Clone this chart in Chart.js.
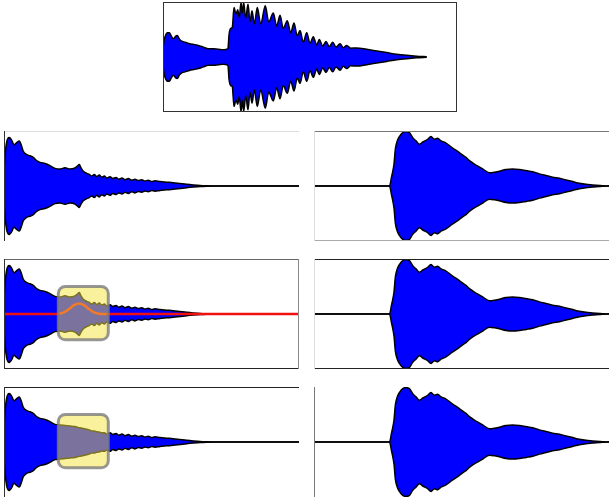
<!DOCTYPE html>
<html><head><meta charset="utf-8">
<script src="https://cdn.jsdelivr.net/npm/chart.js@4"></script>
<style>
html,body{margin:0;padding:0;background:#fff;width:611px;height:497px;overflow:hidden;position:relative;font-family:"DejaVu Sans",sans-serif}
canvas{position:absolute}
</style></head><body>
<script>
// ---- data (time units, normalized amplitude of upper envelope) ----
const topTime=[0.3,1,2.3,4.3,6.3,8.3,10.3,12.7,14.3,16.3,18.7,22,27,30.3,35.3,40.3,45.3,50.3,55.3,60.3,63.7,65,66,67.7,69.3,71,73,74.7,76.3,78,79.3,80.7,82.7,85,87,89,91.3,94.3,97.7,102.3,105.7,110.3,113.7,117,120.3,124.3,127.7,131,134.3,137,140.3,143.7,147,150.3,153.7,156.3,159.7,163,166.3,169.7,173,177,180.3,183.7,187.7,193.7,203.7,213.7,223.7,233.7,243.7,253.7,263.7];
const topAmp=[0.2,0.3,0.38,0.44,0.44,0.38,0.33,0.38,0.39,0.33,0.29,0.27,0.24,0.23,0.21,0.18,0.15,0.15,0.14,0.13,0.14,0.16,0.4,0.52,0.54,0.9,0.78,0.86,0.72,0.99,0.8,0.99,0.7,0.96,0.64,0.84,0.6,0.9,0.6,0.93,0.64,0.8,0.56,0.76,0.52,0.66,0.44,0.62,0.38,0.48,0.27,0.44,0.25,0.37,0.22,0.32,0.2,0.28,0.19,0.27,0.18,0.24,0.17,0.21,0.16,0.165,0.14,0.11,0.08,0.05,0.03,0.015,0.005];

const leftTime=[0,1,2.7,5.3,7.7,10,12.7,15.3,17.3,19.3,22.7,26,29.3,32,36,41,46,51,56,61,66,71,73.3,75.3,77,79.3,82.7,85.3,87.7,90.3,92.7,95.3,97.7,100.3,102.7,106,108.7,112,114.7,118,121,124.3,127.7,131,134.3,137.7,141,144.3,147.7,151,156,162.7,169.3,176,182.7,189.3,196,202.7,212.7,295];
const leftAmp=[0.25,0.55,0.8,0.88,0.83,0.75,0.79,0.82,0.74,0.63,0.57,0.55,0.52,0.47,0.43,0.41,0.37,0.32,0.31,0.33,0.31,0.33,0.36,0.39,0.33,0.27,0.23,0.21,0.18,0.21,0.17,0.2,0.16,0.18,0.145,0.17,0.135,0.155,0.125,0.145,0.115,0.135,0.105,0.125,0.1,0.115,0.09,0.105,0.08,0.095,0.08,0.07,0.06,0.045,0.03,0.018,0.008,0.003,0,0];
const leftAmpEdited=[0.25,0.55,0.8,0.88,0.83,0.75,0.79,0.82,0.74,0.63,0.57,0.55,0.52,0.47,0.43,0.41,0.37,0.32,0.31,0.30,0.29,0.28,0.27,0.26,0.255,0.245,0.23,0.22,0.2,0.2,0.185,0.18,0.165,0.17,0.145,0.17,0.135,0.155,0.125,0.145,0.115,0.135,0.105,0.125,0.1,0.115,0.09,0.105,0.08,0.095,0.08,0.07,0.06,0.045,0.03,0.018,0.008,0.003,0,0];

const rightTime=[0,74.7,76,77.4,78.7,80,81.4,83.7,87,91.4,95.4,98.7,102,105.4,108.7,113.7,117,120.4,123.7,127,132,138.7,143.7,148.7,152,155.4,162,168.7,175.4,180.4,185.4,192,198.7,205.4,212,218.7,225.4,232,238.7,245.4,252,258.7,265.4,272,278.7,288.7,295];
const rightAmp=[0,0,0.02,0.15,0.26,0.4,0.68,0.84,0.94,0.99,0.97,0.88,0.82,0.76,0.8,0.85,0.9,0.85,0.87,0.82,0.78,0.69,0.63,0.56,0.52,0.46,0.38,0.31,0.24,0.25,0.27,0.3,0.31,0.3,0.28,0.26,0.22,0.19,0.16,0.14,0.11,0.08,0.05,0.03,0.02,0.005,0];

const redTime=[1,50,55,60,65,70,75,80,85,90,95,100,294];
const redAmp=[0,0,0.005,0.03,0.09,0.16,0.19,0.16,0.09,0.03,0.005,0,0];

const boxTime=[54.3,104.3];
const boxAmp=[-0.47,0.5];

// ---- plugins ----
const bordersPlugin={id:'panelBorders',afterDraw(chart,args,opts){
  const b=opts.sides||{};const ca=chart.chartArea;const ctx=chart.ctx;
  ctx.save();ctx.lineWidth=1;
  const ln=(x1,y1,x2,y2,c)=>{ctx.strokeStyle=c;ctx.beginPath();ctx.moveTo(x1,y1);ctx.lineTo(x2,y2);ctx.stroke();};
  if(b.top)ln(ca.left,ca.top+0.5,ca.right,ca.top+0.5,b.top);
  if(b.bottom)ln(ca.left,ca.bottom-0.5,ca.right,ca.bottom-0.5,b.bottom);
  if(b.left)ln(ca.left+0.5,ca.top,ca.left+0.5,ca.bottom,b.left);
  if(b.right)ln(ca.right-0.5,ca.top,ca.right-0.5,ca.bottom,b.right);
  ctx.restore();
}};
const boxPlugin={id:'highlightBox',afterDatasetsDraw(chart,args,opts){
  if(!opts.show)return;
  const xs=chart.scales.x,ys=chart.scales.y,ctx=chart.ctx;
  const x0=xs.getPixelForValue(boxTime[0]),x1=xs.getPixelForValue(boxTime[1]);
  const y0=ys.getPixelForValue(boxAmp[1]),y1=ys.getPixelForValue(boxAmp[0]);
  ctx.save();
  ctx.beginPath();ctx.roundRect(x0,y0,x1-x0,y1-y0,7);
  ctx.fillStyle='rgba(245,228,60,0.5)';ctx.fill();
  ctx.lineWidth=3;ctx.strokeStyle='rgba(125,125,125,0.8)';ctx.stroke();
  ctx.restore();
}};

function makeChart(p){
  const cv=document.createElement('canvas');
  cv.width=p.w+2;cv.height=p.h+2;
  cv.style.left=(p.x-1)+'px';cv.style.top=(p.y-1)+'px';
  cv.style.width=(p.w+2)+'px';cv.style.height=(p.h+2)+'px';
  document.body.appendChild(cv);
  const upper=p.time.map((t,i)=>({x:t,y:p.amp[i]}));
  const lower=p.time.map((t,i)=>({x:t,y:-p.amp[i]}));
  const base={pointRadius:0,cubicInterpolationMode:'monotone',borderJoinStyle:'round'};
  const datasets=[];
  if(p.red){
    datasets.push(Object.assign({},base,{data:redTime.map((t,i)=>({x:t,y:redAmp[i]})),borderColor:'rgb(240,16,16)',borderWidth:2.5,fill:false,order:0}));
  }
  datasets.push(Object.assign({},base,{data:upper,borderColor:'#000',borderWidth:1.5,fill:false,order:1}));
  datasets.push(Object.assign({},base,{data:lower,borderColor:'#000',borderWidth:1.5,backgroundColor:'#0000ff',fill:'-1',order:2}));
  new Chart(cv,{type:'line',data:{datasets},
    options:{responsive:false,animation:false,devicePixelRatio:1,
      layout:{padding:1},
      scales:{x:{type:'linear',min:0,max:p.w,display:false},y:{min:-1,max:1,display:false}},
      plugins:{legend:{display:false},tooltip:{enabled:false},
        panelBorders:{sides:p.borders},highlightBox:{show:!!p.box}}},
    plugins:[bordersPlugin,boxPlugin]});
}

const panels=[
  {x:163,y:2,w:294,h:110,time:topTime,amp:topAmp,borders:{top:'#333',bottom:'#333',left:'#333',right:'#333'}},
  {x:4,y:131,w:295,h:110,time:leftTime,amp:leftAmp,borders:{left:'#333',top:'#ddd'}},
  {x:314,y:131,w:295,h:110,time:rightTime,amp:rightAmp,borders:{top:'#777',left:'#ddd',bottom:'#aaa'}},
  {x:4,y:259,w:295,h:110,time:leftTime,amp:leftAmp,red:true,box:true,borders:{top:'#666',right:'#888',bottom:'#222',left:'#333'}},
  {x:314,y:259,w:295,h:110,time:rightTime,amp:rightAmp,borders:{top:'#222',bottom:'#222',left:'#ddd'}},
  {x:4,y:387,w:295,h:110,time:leftTime,amp:leftAmpEdited,box:true,borders:{top:'#222',left:'#333'}},
  {x:314,y:387,w:295,h:110,time:rightTime,amp:rightAmp,borders:{left:'#777'}}
];
panels.forEach(makeChart);
</script>
</body></html>
